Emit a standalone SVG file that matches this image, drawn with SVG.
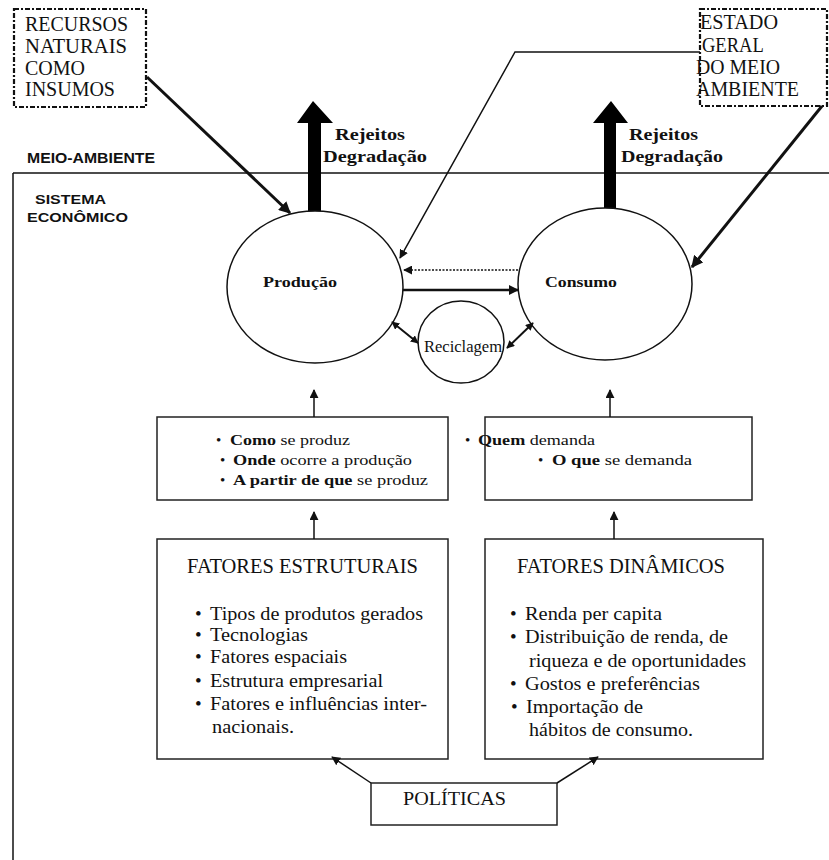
<svg xmlns="http://www.w3.org/2000/svg" width="829" height="860" viewBox="0 0 829 860">
<style>
.ser{font-family:"Liberation Serif","Times New Roman",serif;fill:#111}
.sans{font-family:"Liberation Sans",Arial,sans-serif;font-weight:bold;fill:#111}
.b{font-weight:bold}
.box{fill:#fff;stroke:#222;stroke-width:1.5}
.ell{fill:#fff;stroke:#111;stroke-width:1.5}
.dash{fill:#fff;stroke:#111;stroke-width:2.2;stroke-dasharray:5 2 2 2}
.ln{fill:none;stroke:#111}
</style>
<defs>
<marker id="ah" viewBox="0 0 10 10" refX="9" refY="5" markerWidth="4" markerHeight="4" orient="auto-start-reverse" markerUnits="strokeWidth"><path d="M0,0 L10,5 L0,10 z" fill="#111"/></marker>
<marker id="ahs" viewBox="0 0 10 10" refX="9" refY="5" markerWidth="6" markerHeight="6" orient="auto-start-reverse" markerUnits="strokeWidth"><path d="M0,0 L10,5 L0,10 z" fill="#111"/></marker>
</defs>
<rect width="829" height="860" fill="#fff"/>

<g id="frame">
<line class="ln" x1="13" y1="173" x2="829" y2="173" stroke-width="1.5"/>
<line class="ln" x1="13" y1="173" x2="13" y2="860" stroke-width="1.5"/>
<text class="sans" x="27" y="163" font-size="14" textLength="128" lengthAdjust="spacingAndGlyphs">MEIO-AMBIENTE</text>
<text class="sans" x="35" y="204" font-size="13" textLength="71" lengthAdjust="spacingAndGlyphs">SISTEMA</text>
<text class="sans" x="27" y="222" font-size="13" textLength="101" lengthAdjust="spacingAndGlyphs">ECONÔMICO</text>
</g>

<g id="recursos">
<rect class="dash" x="14" y="9" width="132" height="98"/>
<text class="ser" font-size="20">
<tspan x="25" y="31" textLength="103" lengthAdjust="spacingAndGlyphs">RECURSOS</tspan>
<tspan x="25" y="53" textLength="102" lengthAdjust="spacingAndGlyphs">NATURAIS</tspan>
<tspan x="25" y="75" textLength="60" lengthAdjust="spacingAndGlyphs">COMO</tspan>
<tspan x="25" y="96" textLength="90" lengthAdjust="spacingAndGlyphs">INSUMOS</tspan>
</text>
</g>

<g id="estado">
<rect class="dash" x="700" y="9" width="127" height="97"/>
<text class="ser" font-size="20">
<tspan x="700" y="29" textLength="78" lengthAdjust="spacingAndGlyphs">ESTADO</tspan>
<tspan x="702" y="52" textLength="61" lengthAdjust="spacingAndGlyphs">GERAL</tspan>
<tspan x="696" y="74" textLength="84" lengthAdjust="spacingAndGlyphs">DO MEIO</tspan>
<tspan x="696" y="96" textLength="103" lengthAdjust="spacingAndGlyphs">AMBIENTE</tspan>
</text>
</g>

<g id="rejeitos-prod">
<path d="M308,212 L308,123 L297,123 L313,101 L333,123 L321,123 L321,212 Z" fill="#000"/>
<text class="ser b" x="335" y="140" font-size="16" textLength="70" lengthAdjust="spacingAndGlyphs">Rejeitos</text>
<text class="ser b" x="323" y="162" font-size="16" textLength="104" lengthAdjust="spacingAndGlyphs">Degradação</text>
</g>

<g id="rejeitos-cons">
<path d="M604,210 L604,123 L593,123 L611,101 L628,123 L616,123 L616,210 Z" fill="#000"/>
<text class="ser b" x="629" y="140" font-size="16" textLength="69" lengthAdjust="spacingAndGlyphs">Rejeitos</text>
<text class="ser b" x="621" y="162" font-size="16" textLength="102" lengthAdjust="spacingAndGlyphs">Degradação</text>
</g>

<g id="producao">
<ellipse class="ell" cx="315" cy="287" rx="88" ry="76"/>
<text class="ser b" x="263" y="287" font-size="14" textLength="74" lengthAdjust="spacingAndGlyphs">Produção</text>
</g>

<g id="consumo">
<ellipse class="ell" cx="605" cy="284" rx="87" ry="76"/>
<text class="ser b" x="545" y="287" font-size="14" textLength="72" lengthAdjust="spacingAndGlyphs">Consumo</text>
</g>

<g id="reciclagem">
<ellipse class="ell" cx="461" cy="342" rx="43" ry="41"/>
<text class="ser" x="424" y="352" font-size="16" textLength="78" lengthAdjust="spacingAndGlyphs">Reciclagem</text>
</g>

<g id="como">
<rect class="box" x="157" y="417" width="291" height="83"/>
<text class="ser" x="216" y="445" font-size="15">•</text>
<text class="ser" x="230" y="445" font-size="15" textLength="120" lengthAdjust="spacingAndGlyphs"><tspan class="b">Como</tspan> se produz</text>
<text class="ser" x="220" y="465" font-size="15">•</text>
<text class="ser" x="233" y="465" font-size="15" textLength="179" lengthAdjust="spacingAndGlyphs"><tspan class="b">Onde</tspan> ocorre a produção</text>
<text class="ser" x="220" y="485" font-size="15">•</text>
<text class="ser" x="233" y="485" font-size="15" textLength="195" lengthAdjust="spacingAndGlyphs"><tspan class="b">A partir de que</tspan> se produz</text>
</g>

<g id="quem">
<rect class="box" x="485" y="417" width="267" height="83"/>
<text class="ser" x="465" y="445" font-size="15">•</text>
<text class="ser" x="478" y="445" font-size="15" textLength="117" lengthAdjust="spacingAndGlyphs"><tspan class="b">Quem</tspan> demanda</text>
<text class="ser" x="538" y="465" font-size="15">•</text>
<text class="ser" x="552" y="465" font-size="15" textLength="140" lengthAdjust="spacingAndGlyphs"><tspan class="b">O que</tspan> se demanda</text>
</g>

<g id="estruturais">
<rect class="box" x="157" y="539" width="291" height="220"/>
<text class="ser" x="187" y="573" font-size="20" textLength="231" lengthAdjust="spacingAndGlyphs">FATORES ESTRUTURAIS</text>
<g class="ser" font-size="19">
<text x="195" y="620">•</text><text x="210" y="620" textLength="213" lengthAdjust="spacingAndGlyphs">Tipos de produtos gerados</text>
<text x="195" y="641">•</text><text x="210" y="641" textLength="98" lengthAdjust="spacingAndGlyphs">Tecnologias</text>
<text x="195" y="663">•</text><text x="210" y="663" textLength="137" lengthAdjust="spacingAndGlyphs">Fatores espaciais</text>
<text x="195" y="687">•</text><text x="210" y="687" textLength="173" lengthAdjust="spacingAndGlyphs">Estrutura empresarial</text>
<text x="195" y="710">•</text><text x="210" y="710" textLength="217" lengthAdjust="spacingAndGlyphs">Fatores e influências inter-</text>
<text x="212" y="733" textLength="82" lengthAdjust="spacingAndGlyphs">nacionais.</text>
</g>
</g>

<g id="dinamicos">
<rect class="box" x="485" y="539" width="278" height="220"/>
<text class="ser" x="517" y="573" font-size="20" textLength="208" lengthAdjust="spacingAndGlyphs">FATORES DINÂMICOS</text>
<g class="ser" font-size="19">
<text x="510" y="620">•</text><text x="525" y="620" textLength="137" lengthAdjust="spacingAndGlyphs">Renda per capita</text>
<text x="510" y="643">•</text><text x="525" y="643" textLength="203" lengthAdjust="spacingAndGlyphs">Distribuição de renda, de</text>
<text x="529" y="667" textLength="217" lengthAdjust="spacingAndGlyphs">riqueza e de oportunidades</text>
<text x="510" y="690">•</text><text x="525" y="690" textLength="175" lengthAdjust="spacingAndGlyphs">Gostos e preferências</text>
<text x="511" y="713">•</text><text x="526" y="713" textLength="117" lengthAdjust="spacingAndGlyphs">Importação de</text>
<text x="529" y="736" textLength="164" lengthAdjust="spacingAndGlyphs">hábitos de consumo.</text>
</g>
</g>

<g id="politicas">
<rect class="box" x="371" y="783" width="186" height="42"/>
<text class="ser" x="403" y="805" font-size="19" textLength="103" lengthAdjust="spacingAndGlyphs">POLÍTICAS</text>
</g>

<g id="connectors">
<line class="ln" x1="147" y1="77" x2="290" y2="213" stroke-width="3" marker-end="url(#ah)"/>
<polyline class="ln" points="700,52 515,52 400,258" stroke-width="1.5" marker-end="url(#ahs)"/>
<line class="ln" x1="822" y1="106" x2="692" y2="267" stroke-width="3" marker-end="url(#ah)"/>
<line class="ln" x1="518" y1="270" x2="404" y2="270" stroke-width="1.5" stroke-dasharray="2 1.5" marker-end="url(#ahs)"/>
<line class="ln" x1="403" y1="290" x2="518" y2="290" stroke-width="2.5" marker-end="url(#ah)"/>
<line class="ln" x1="392" y1="322" x2="418" y2="343" stroke-width="2" marker-start="url(#ah)" marker-end="url(#ah)"/>
<line class="ln" x1="507" y1="348" x2="533" y2="323" stroke-width="2" marker-start="url(#ah)" marker-end="url(#ah)"/>
<line class="ln" x1="314" y1="417" x2="314" y2="390" stroke-width="1.5" marker-end="url(#ahs)"/>
<line class="ln" x1="610" y1="417" x2="610" y2="390" stroke-width="1.5" marker-end="url(#ahs)"/>
<line class="ln" x1="314" y1="539" x2="314" y2="512" stroke-width="1.5" marker-end="url(#ahs)"/>
<line class="ln" x1="614" y1="539" x2="614" y2="512" stroke-width="1.5" marker-end="url(#ahs)"/>
<line class="ln" x1="371" y1="783" x2="332" y2="757" stroke-width="1.5" marker-end="url(#ahs)"/>
<line class="ln" x1="557" y1="783" x2="598" y2="757" stroke-width="1.5" marker-end="url(#ahs)"/>
</g>
</svg>
